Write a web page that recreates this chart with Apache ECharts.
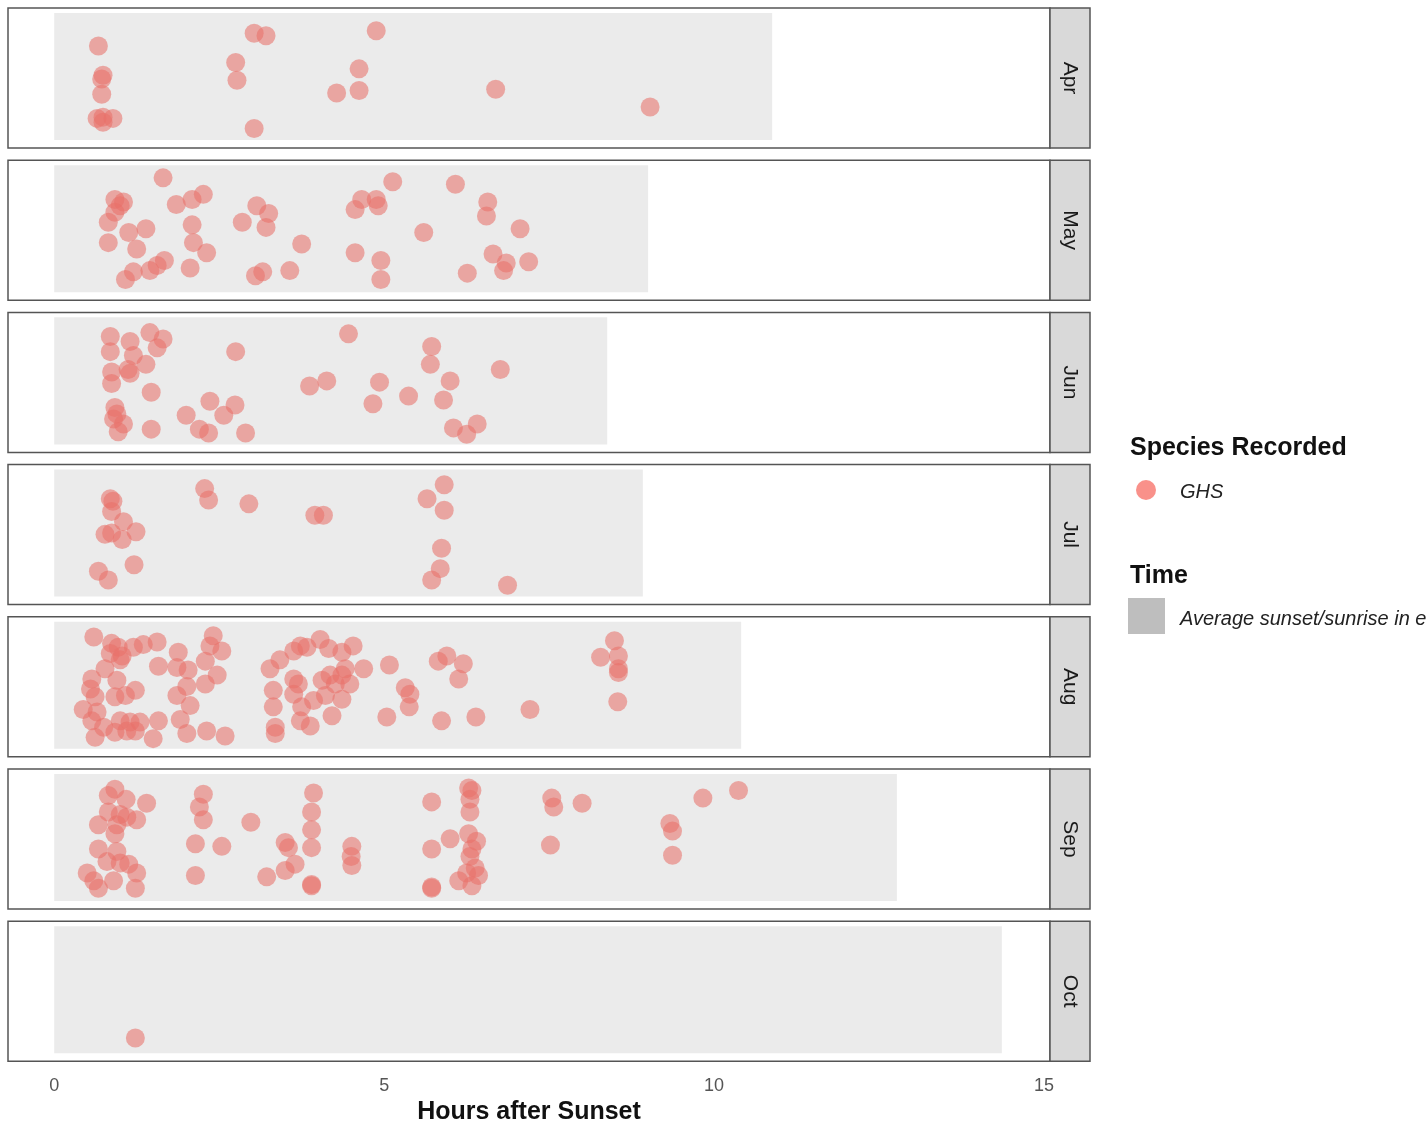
<!DOCTYPE html>
<html>
<head>
<meta charset="utf-8">
<script src="https://cdn.jsdelivr.net/npm/echarts@6/dist/echarts.min.js"></script>
<style>
  html, body { margin: 0; padding: 0; background: #fff; }
  #chart { width: 1427px; height: 1124px; }
</style>
</head>
<body>
<div id="chart"></div>
<script>
// months shown as facets, top to bottom
var months = ['Apr', 'May', 'Jun', 'Jul', 'Aug', 'Sep', 'Oct'];
// average length of the night (hours from sunset to sunrise)
var nightHours = [10.88, 9.0, 8.38, 8.92, 10.41, 12.77, 14.36];
var xTicks = [0, 5, 10, 15];

// GHS detections: [hours after sunset, vertical jitter 0..1]
var ghsApr = [
  [0.67, 0.74], [0.74, 0.51], [0.72, 0.48], [0.72, 0.36], [0.65, 0.17], [0.74, 0.18],
  [0.89, 0.17], [0.74, 0.14], [3.03, 0.84], [3.21, 0.82], [2.75, 0.61], [2.77, 0.47],
  [3.03, 0.09], [4.88, 0.86], [4.62, 0.56], [4.62, 0.39], [4.28, 0.37], [6.69, 0.40],
  [9.03, 0.26]
];
var ghsMay = [
  [1.65, 0.90], [0.92, 0.73], [1.05, 0.71], [1.00, 0.68], [0.92, 0.63], [0.82, 0.55],
  [1.13, 0.47], [1.39, 0.50], [0.82, 0.39], [1.25, 0.34], [1.85, 0.69], [2.09, 0.73],
  [2.26, 0.77], [2.09, 0.53], [2.11, 0.39], [2.31, 0.31], [1.67, 0.25], [1.56, 0.21],
  [1.45, 0.17], [1.20, 0.16], [1.08, 0.10], [2.06, 0.19], [3.07, 0.68], [3.25, 0.62],
  [2.85, 0.55], [3.21, 0.51], [3.75, 0.38], [3.16, 0.16], [3.05, 0.13], [3.57, 0.17],
  [5.13, 0.87], [4.66, 0.73], [4.56, 0.65], [4.88, 0.73], [4.91, 0.68], [5.60, 0.47],
  [4.56, 0.31], [4.95, 0.25], [4.95, 0.10], [6.08, 0.85], [6.57, 0.71], [6.55, 0.60],
  [7.06, 0.50], [6.26, 0.15], [6.65, 0.30], [6.85, 0.23], [6.81, 0.17], [7.19, 0.24]
];
var ghsJun = [
  [0.85, 0.85], [1.15, 0.81], [1.45, 0.88], [1.65, 0.83], [1.56, 0.76], [0.85, 0.73],
  [1.20, 0.70], [1.39, 0.63], [0.87, 0.57], [1.15, 0.56], [1.12, 0.59], [0.87, 0.48],
  [1.47, 0.41], [0.92, 0.29], [0.95, 0.24], [0.90, 0.20], [1.05, 0.16], [0.97, 0.10],
  [1.47, 0.12], [2.75, 0.73], [2.36, 0.34], [2.74, 0.31], [2.00, 0.23], [2.57, 0.23],
  [2.20, 0.12], [2.34, 0.09], [2.90, 0.09], [4.46, 0.87], [3.87, 0.46], [4.13, 0.50],
  [4.93, 0.49], [4.83, 0.32], [5.37, 0.38], [5.72, 0.77], [5.70, 0.63], [6.00, 0.50],
  [5.90, 0.35], [6.76, 0.59], [6.05, 0.13], [6.25, 0.08], [6.41, 0.16]
];
var ghsJul = [
  [0.85, 0.77], [0.89, 0.75], [0.87, 0.67], [1.05, 0.59], [0.77, 0.49], [0.87, 0.50],
  [1.03, 0.45], [1.24, 0.51], [0.67, 0.20], [0.82, 0.13], [1.21, 0.25], [2.28, 0.85],
  [2.34, 0.76], [2.95, 0.73], [3.95, 0.64], [4.08, 0.64], [5.91, 0.88], [5.65, 0.77],
  [5.91, 0.68], [5.87, 0.38], [5.85, 0.22], [5.72, 0.13], [6.87, 0.09]
];
var ghsAug = [
  [0.60, 0.88], [0.87, 0.83], [0.97, 0.80], [0.85, 0.75], [1.03, 0.73], [1.20, 0.80],
  [1.35, 0.82], [1.56, 0.84], [0.77, 0.63], [1.00, 0.70], [0.57, 0.55], [0.95, 0.54],
  [0.55, 0.47], [0.62, 0.41], [0.92, 0.41], [1.08, 0.42], [1.23, 0.46], [0.44, 0.31],
  [0.65, 0.29], [0.57, 0.22], [1.00, 0.22], [1.15, 0.21], [1.30, 0.21], [1.58, 0.22],
  [0.62, 0.09], [0.92, 0.13], [1.10, 0.14], [1.23, 0.14], [1.50, 0.08], [0.75, 0.17],
  [1.58, 0.65], [1.88, 0.76], [1.86, 0.64], [2.03, 0.62], [2.41, 0.89], [2.36, 0.81],
  [2.54, 0.77], [2.29, 0.69], [2.47, 0.58], [2.29, 0.51], [2.01, 0.49], [1.86, 0.42],
  [2.06, 0.34], [1.91, 0.23], [2.01, 0.12], [2.31, 0.14], [2.59, 0.10], [3.27, 0.63],
  [3.42, 0.70], [3.63, 0.77], [3.73, 0.81], [3.83, 0.80], [4.03, 0.86], [4.16, 0.79],
  [4.36, 0.76], [4.53, 0.81], [4.69, 0.63], [4.41, 0.63], [3.63, 0.55], [3.70, 0.51],
  [3.32, 0.46], [3.32, 0.33], [3.35, 0.17], [3.35, 0.12], [3.63, 0.43], [3.75, 0.33],
  [3.73, 0.22], [3.88, 0.18], [4.06, 0.54], [4.18, 0.58], [4.26, 0.51], [4.36, 0.58],
  [4.48, 0.51], [4.11, 0.42], [3.93, 0.38], [4.36, 0.39], [4.21, 0.26], [5.08, 0.66],
  [5.32, 0.48], [5.39, 0.43], [5.38, 0.33], [5.04, 0.25], [5.82, 0.69], [5.95, 0.73],
  [6.20, 0.67], [6.13, 0.55], [5.87, 0.22], [6.39, 0.25], [7.21, 0.31], [8.49, 0.85],
  [8.55, 0.73], [8.28, 0.72], [8.55, 0.63], [8.55, 0.60], [8.54, 0.37]
];
var ghsSep = [
  [0.92, 0.88], [0.82, 0.83], [1.09, 0.80], [1.40, 0.77], [0.82, 0.70], [1.00, 0.68],
  [1.10, 0.66], [1.25, 0.64], [0.67, 0.60], [0.95, 0.60], [0.92, 0.53], [0.67, 0.41],
  [0.95, 0.39], [0.80, 0.31], [1.00, 0.30], [1.13, 0.29], [0.50, 0.22], [0.60, 0.16],
  [0.67, 0.10], [0.90, 0.16], [1.25, 0.22], [1.23, 0.10], [2.26, 0.84], [2.20, 0.74],
  [2.26, 0.64], [2.14, 0.45], [2.54, 0.43], [2.14, 0.20], [2.98, 0.62], [3.93, 0.85],
  [3.90, 0.70], [3.90, 0.56], [3.90, 0.42], [3.50, 0.46], [3.55, 0.42], [3.65, 0.29],
  [3.50, 0.24], [3.22, 0.19], [3.90, 0.13], [3.90, 0.12], [4.51, 0.43], [4.50, 0.35],
  [4.51, 0.28], [5.72, 0.78], [5.72, 0.41], [5.72, 0.11], [5.72, 0.10], [6.28, 0.89],
  [6.33, 0.87], [6.30, 0.80], [6.30, 0.70], [6.00, 0.49], [6.28, 0.53], [6.40, 0.47],
  [6.33, 0.41], [6.30, 0.35], [6.38, 0.26], [6.25, 0.22], [6.13, 0.16], [6.33, 0.12],
  [6.43, 0.20], [7.54, 0.81], [7.57, 0.74], [8.00, 0.77], [7.52, 0.44], [9.33, 0.61],
  [9.37, 0.55], [9.37, 0.36], [9.83, 0.81], [10.37, 0.87]
];
var ghsOct = [
  [1.23, 0.12]
];
var ghsByMonth = [ghsApr, ghsMay, ghsJun, ghsJul, ghsAug, ghsSep, ghsOct];

var dom = document.getElementById('chart');
var myChart = echarts.init(dom, null, { renderer: 'canvas' });

var panelLeft = 8;
var panelWidth = 1042;
var panelTop = 8;
var panelHeight = 140;
var panelStep = 152.2;
var stripWidth = 40;
var fontFamily = 'Liberation Sans, Arial';

var grids = [];
var xAxes = [];
var yAxes = [];
var series = [];
var graphics = [];

months.forEach(function (m, i) {
  var top = panelTop + i * panelStep;
  var last = i === months.length - 1;
  grids.push({
    left: panelLeft,
    top: top,
    width: panelWidth,
    height: panelHeight,
    outerBoundsMode: 'none',
    containLabel: false,
    show: true,
    borderColor: '#555',
    borderWidth: 1.5,
    backgroundColor: '#fff'
  });
  xAxes.push({
    type: 'value',
    gridIndex: i,
    min: -0.7,
    max: 15.09,
    show: last,
    splitLine: { show: false },
    axisLine: { show: false },
    axisTick: { show: false },
    axisLabel: {
      show: last,
      customValues: xTicks,
      color: '#555',
      fontSize: 18,
      fontFamily: fontFamily,
      margin: 16
    },
    name: last ? 'Hours after Sunset' : '',
    nameLocation: 'middle',
    nameGap: 38,
    nameTextStyle: {
      color: '#111',
      fontSize: 25,
      fontWeight: 'bold',
      fontFamily: fontFamily
    }
  });
  yAxes.push({
    type: 'value',
    gridIndex: i,
    min: -0.063,
    max: 1.039,
    show: false,
    splitLine: { show: false }
  });
  // night period for the month
  series.push({
    name: 'Average sunset/sunrise in each month',
    type: 'custom',
    xAxisIndex: i,
    yAxisIndex: i,
    silent: true,
    z: 1,
    data: [[0, 0, nightHours[i], 1]],
    renderItem: function (params, api) {
      var p0 = api.coord([api.value(0), api.value(1)]);
      var p1 = api.coord([api.value(2), api.value(3)]);
      return {
        type: 'rect',
        shape: { x: p0[0], y: p1[1], width: p1[0] - p0[0], height: p0[1] - p1[1] },
        style: { fill: '#EBEBEB' }
      };
    }
  });
  series.push({
    name: 'GHS',
    type: 'scatter',
    xAxisIndex: i,
    yAxisIndex: i,
    z: 3,
    symbol: 'circle',
    symbolSize: 19,
    itemStyle: { color: 'rgb(232,112,106)', opacity: 0.57 },
    data: ghsByMonth[i]
  });
  // facet strip on the right
  graphics.push({
    type: 'rect',
    shape: { x: panelLeft + panelWidth, y: top, width: stripWidth, height: panelHeight },
    style: { fill: '#D9D9D9', stroke: '#555', lineWidth: 1.5 }
  });
  graphics.push({
    type: 'text',
    x: panelLeft + panelWidth + stripWidth / 2,
    y: top + panelHeight / 2,
    rotation: -Math.PI / 2,
    style: {
      text: m,
      fill: '#1a1a1a',
      font: '21px ' + fontFamily,
      textAlign: 'center',
      textVerticalAlign: 'middle'
    }
  });
});

// legend drawn by hand, ggplot style
graphics.push(
  {
    type: 'text', x: 1130, y: 448,
    style: { text: 'Species Recorded', fill: '#111', font: 'bold 25px ' + fontFamily, textVerticalAlign: 'middle' }
  },
  {
    type: 'circle', shape: { cx: 1146, cy: 490, r: 10 },
    style: { fill: '#F8766D', opacity: 0.8 }
  },
  {
    type: 'text', x: 1180, y: 492,
    style: { text: 'GHS', fill: '#222', font: 'italic 20px ' + fontFamily, textVerticalAlign: 'middle' }
  },
  {
    type: 'text', x: 1130, y: 576,
    style: { text: 'Time', fill: '#111', font: 'bold 25px ' + fontFamily, textVerticalAlign: 'middle' }
  },
  {
    type: 'rect', shape: { x: 1128, y: 598, width: 37, height: 36 },
    style: { fill: '#BEBEBE' }
  },
  {
    type: 'text', x: 1180, y: 619,
    style: { text: 'Average sunset/sunrise in each month', fill: '#222', font: 'italic 20px ' + fontFamily, textVerticalAlign: 'middle' }
  }
);

var option = {
  backgroundColor: '#fff',
  animation: false,
  grid: grids,
  xAxis: xAxes,
  yAxis: yAxes,
  series: series,
  graphic: graphics
};

myChart.setOption(option);
window.addEventListener('resize', myChart.resize);
</script>
</body>
</html>
